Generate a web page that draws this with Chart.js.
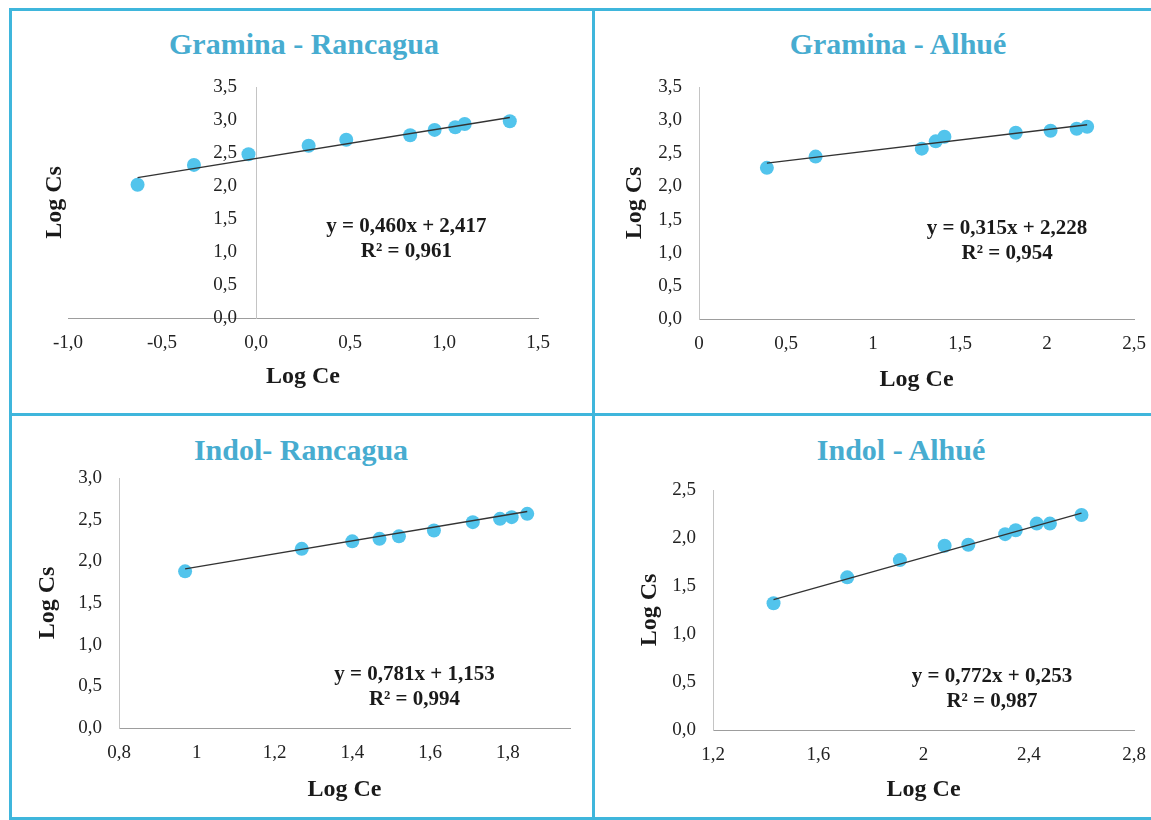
<!DOCTYPE html>
<html lang="es">
<head>
<meta charset="utf-8">
<title>Log Cs vs Log Ce</title>
<script src="https://cdn.jsdelivr.net/npm/chart.js@4.4.1/dist/chart.umd.min.js"></script>
<style>
  html, body { margin: 0; padding: 0; background: #fff; overflow: hidden; }
  #sheet { position: relative; width: 1151px; height: 820px; overflow: hidden; }
  .frame { position: absolute; left: 9px; top: 8px; width: 1200px; height: 806px; border: 3px solid #3fb6dc; }
  .vline { position: absolute; left: 592px; top: 8px; width: 3px; height: 812px; background: #3fb6dc; }
  .hline { position: absolute; left: 9px; top: 413px; width: 1200px; height: 3px; background: #3fb6dc; }
  .title { position: absolute; width: 400px; text-align: center; font: bold 30px "Liberation Serif", serif; line-height: 36px; color: #47acd0; white-space: nowrap; }
  canvas { position: absolute; }
</style>
</head>
<body>
<div id="sheet">
  <div class="frame"></div>
  <div class="vline"></div>
  <div class="hline"></div>
  <div class="title" id="t1" style="left:104px;top:26px"></div>
  <div class="title" id="t2" style="left:698px;top:26px"></div>
  <div class="title" id="t3" style="left:101px;top:432px"></div>
  <div class="title" id="t4" style="left:701px;top:432px"></div>
  <canvas id="c1" width="578" height="398" style="left:14px;top:14px"></canvas>
  <canvas id="c2" width="560" height="398" style="left:600px;top:14px"></canvas>
  <canvas id="c3" width="578" height="398" style="left:14px;top:418px"></canvas>
  <canvas id="c4" width="560" height="398" style="left:600px;top:418px"></canvas>
</div>
<script>
// valores (log Ce, log Cs)
const graminaRancaguaLogCe = [-0.63, -0.33, -0.04, 0.28, 0.48, 0.82, 0.95, 1.06, 1.11, 1.35];
const graminaRancaguaLogCs = [2.02, 2.32, 2.48, 2.61, 2.70, 2.77, 2.85, 2.89, 2.94, 2.98];

const graminaAlhueLogCe = [0.39, 0.67, 1.28, 1.36, 1.41, 1.82, 2.02, 2.17, 2.23];
const graminaAlhueLogCs = [2.28, 2.45, 2.57, 2.68, 2.75, 2.81, 2.84, 2.87, 2.90];

const indolRancaguaLogCe = [0.97, 1.27, 1.40, 1.47, 1.52, 1.61, 1.71, 1.78, 1.81, 1.85];
const indolRancaguaLogCs = [1.88, 2.15, 2.24, 2.27, 2.30, 2.37, 2.47, 2.51, 2.53, 2.57];

const indolAlhueLogCe = [1.43, 1.71, 1.91, 2.08, 2.17, 2.31, 2.35, 2.43, 2.48, 2.60];
const indolAlhueLogCs = [1.32, 1.59, 1.77, 1.92, 1.93, 2.04, 2.08, 2.15, 2.15, 2.24];

// regresión lineal mostrada en cada panel
const panelTitles = ['Gramina - Rancagua', 'Gramina - Alhué', 'Indol- Rancagua', 'Indol - Alhué'];
const slopes = [0.460, 0.315, 0.781, 0.772];
const intercepts = [2.417, 2.228, 1.153, 0.253];
const rSquared = [0.961, 0.954, 0.994, 0.987];

const serif = '"Liberation Serif", "Times New Roman", serif';
const pointColor = '#52c4ec';

// número con coma decimal; sin decimales fijos usa formato general
const comma = (v, d) => (d == null ? String(Math.round(v * 100) / 100) : v.toFixed(d)).replace('.', ',');

const equationLabel = {
    id: 'equationLabel',
    afterDatasetsDraw(chart, args, opts) {
        const { ctx, scales } = chart;
        const px = scales.x.getPixelForValue(opts.at[0]);
        const py = scales.y.getPixelForValue(opts.at[1]);
        ctx.save();
        ctx.font = 'bold 21px ' + serif;
        ctx.fillStyle = '#1a1a1a';
        ctx.textAlign = 'center';
        ctx.textBaseline = 'middle';
        opts.lines.forEach((t, i) => {
            ctx.fillText(t, px, py + (i - (opts.lines.length - 1) / 2) * 25);
        });
        ctx.restore();
    }
};

function buildChart(canvasId, p) {
    const points = p.x.map((v, i) => ({ x: v, y: p.y[i] }));
    const x0 = Math.min(...p.x);
    const x1 = Math.max(...p.x);
    const trend = [
        { x: x0, y: p.slope * x0 + p.intercept },
        { x: x1, y: p.slope * x1 + p.intercept },
    ];
    const axisTitle = { display: true, font: { family: serif, size: 24, weight: 'bold' }, color: '#1a1a1a', padding: 0 };
    const tickFont = { family: serif, size: 19 };

    const scales = {
        x: {
            type: 'linear',
            min: p.xMin,
            max: p.xMax,
            grid: { display: false, drawTicks: false },
            border: { color: '#9d9d9d', dash: [3, 2], width: 1 },
            ticks: {
                stepSize: p.xStep,
                includeBounds: false,
                autoSkip: false,
                maxRotation: 0,
                font: tickFont,
                color: '#222',
                padding: 14,
                callback: v => p.xFmt(v),
            },
            title: { ...axisTitle, text: 'Log Ce' },
            afterFit: s => { s.height = p.xH; },
        },
        y: {
            type: 'linear',
            min: 0,
            max: p.yMax,
            position: p.yCross ? { x: 0 } : 'left',
            grid: { display: false, drawTicks: false },
            border: { color: '#c4c4c4', dash: [2, 2], width: 1 },
            ticks: {
                stepSize: 0.5,
                font: tickFont,
                color: '#222',
                padding: 17,
                // el eje que cruza en x = 0 no aplica padding, se separa con espacios
                callback: v => comma(v, 1) + (p.yCross ? '\u2002\u2002' : ''),
            },
            title: { ...axisTitle, text: 'Log Cs', display: !p.yCross },
            afterFit: s => { if (!p.yCross) s.width = p.yW; },
        },
    };
    // eje cruzando en x = 0: el título va en un eje aparte a la izquierda
    if (p.yCross) {
        scales.yt = {
            type: 'linear',
            position: 'left',
            min: 0,
            max: p.yMax,
            grid: { display: false, drawTicks: false },
            border: { display: false },
            ticks: { display: false },
            title: { ...axisTitle, text: 'Log Cs' },
            afterFit: s => { s.width = p.yW; },
        };
    }

    return new Chart(document.getElementById(canvasId), {
        type: 'scatter',
        data: {
            datasets: [{
                label: 'tendencia',
                data: trend,
                showLine: true,
                borderColor: '#333',
                borderWidth: 1.3,
                pointRadius: 0,
            }, {
                label: 'Log Cs',
                data: points,
                backgroundColor: pointColor,
                borderWidth: 0,
                pointRadius: 7,
            }],
        },
        options: {
            responsive: false,
            animation: false,
            layout: { padding: p.pad },
            scales: scales,
            plugins: {
                legend: { display: false },
                tooltip: { enabled: false },
                equationLabel: {
                    at: p.eqAt,
                    lines: [
                        'y = ' + comma(p.slope, 3) + 'x + ' + comma(p.intercept, 3),
                        'R² = ' + comma(p.r2, 3),
                    ],
                },
            },
        },
        plugins: [equationLabel],
    });
}

const panels = [
    { canvas: 'c1', x: graminaRancaguaLogCe, y: graminaRancaguaLogCs, xMin: -1, xMax: 1.5, xStep: 0.5, yMax: 3.5,
      xFmt: v => comma(v, 1), yCross: true, yW: 28, xH: 73, pad: { left: 26, right: 54, top: 73, bottom: 21 }, eqAt: [0.80, 1.19] },
    { canvas: 'c2', x: graminaAlhueLogCe, y: graminaAlhueLogCs, xMin: 0, xMax: 2.5, xStep: 0.5, yMax: 3.5,
      xFmt: v => comma(v), yW: 79, xH: 75, pad: { left: 20, right: 24, top: 73, bottom: 18 }, eqAt: [1.77, 1.18] },
    { canvas: 'c3', x: indolRancaguaLogCe, y: indolRancaguaLogCs, xMin: 0.8, xMax: 1.96, xStep: 0.2, yMax: 3,
      xFmt: v => comma(v), yW: 86, xH: 76, pad: { left: 19, right: 22, top: 60, bottom: 12 }, eqAt: [1.56, 0.49] },
    { canvas: 'c4', x: indolAlhueLogCe, y: indolAlhueLogCs, xMin: 1.2, xMax: 2.8, xStep: 0.4, yMax: 2.5,
      xFmt: v => comma(v), yW: 78, xH: 74, pad: { left: 35, right: 25, top: 72, bottom: 12 }, eqAt: [2.26, 0.43] },
];

panels.forEach((p, i) => {
    document.getElementById('t' + (i + 1)).textContent = panelTitles[i];
    buildChart(p.canvas, { ...p, slope: slopes[i], intercept: intercepts[i], r2: rSquared[i] });
});
</script>
</body>
</html>
